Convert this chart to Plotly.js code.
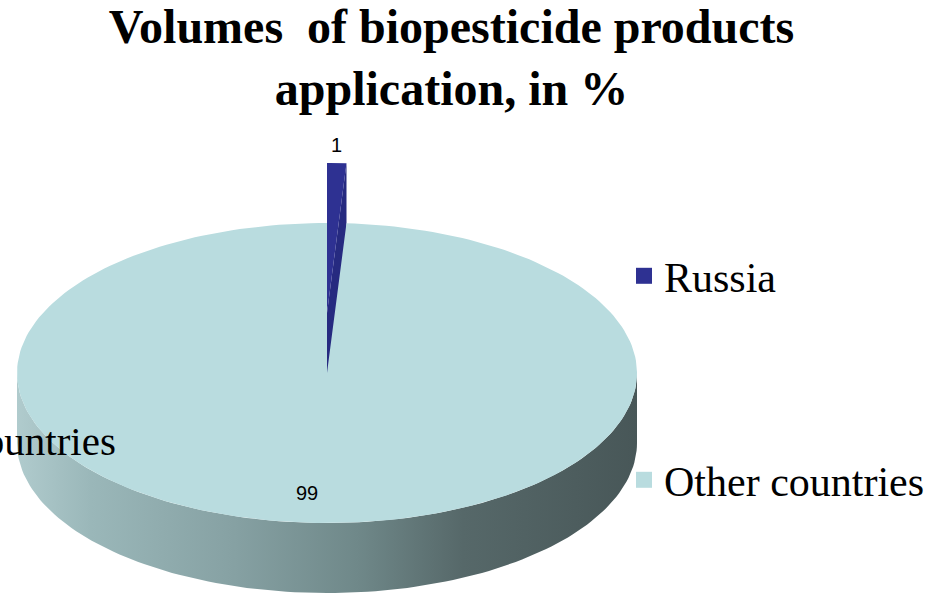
<!DOCTYPE html>
<html>
<head>
<meta charset="utf-8">
<script src="https://cdn.plot.ly/plotly-3.0.1.min.js"></script>
<style>html,body{margin:0;padding:0;background:#fff;}#chart{width:943px;height:595px;}</style>
</head>
<body>
<div id="chart"></div>
<script>
// ---- data ----
const categories = ['Russia', 'Other countries'];
const values = [1, 99];
const sliceColors = ['#2e3192', '#b9dcdf'];
const titleText = 'Volumes\u00a0\u00a0of biopesticide products<br>application, in %';

// ---- geometry of the pseudo-3D pie (pixel space) ----
const W = 943, H = 595;
const cx = 327, cy = 373, rx = 310, ry = 150, depth = 70;
const explode = 60;          // Russia slice pulled backwards (upwards on screen)

const total = values.reduce((a, b) => a + b, 0);
const rad = d => d * Math.PI / 180;
function pt(theta, r, dy) {   // theta: degrees clockwise from 12 o'clock
  r = r === undefined ? 1 : r; dy = dy || 0;
  return [cx + rx * r * Math.sin(rad(theta)), cy - ry * r * Math.cos(rad(theta)) + dy];
}
function arc(a0, a1, n, dy) {
  const out = [];
  for (let i = 0; i <= n; i++) out.push(pt(a0 + (a1 - a0) * i / n, 1, dy));
  return out;
}
// slice angles from the values
const bounds = [];
let acc = 0;
values.forEach(v => { const a0 = acc / total * 360; acc += v; bounds.push([a0, acc / total * 360]); });

const traces = [];
function poly(points, color, extra) {
  const t = Object.assign({
    x: points.map(p => p[0]), y: points.map(p => p[1]),
    mode: 'lines', fill: 'toself', fillcolor: color,
    line: {width: 0, color: color}, hoverinfo: 'skip', showlegend: false
  }, extra || {});
  traces.push(t);
}

// side wall of the big slice (front half of the cylinder)
const [o0, o1] = bounds[1];
const sideTop = arc(90, 270, 120, 0);
const sideBot = arc(270, 90, 120, depth);
poly(sideTop.concat(sideBot), '#8aa6a8', {
  fillgradient: {type: 'horizontal', colorscale: [
    [0, '#b0cbcd'], [0.12, '#9ab7b9'], [0.35, '#86a1a3'], [0.55, '#6f8889'],
    [0.72, '#566869'], [1, '#485758']]}
});

// Russia slice (exploded)
const [r0, r1] = bounds[0];
const tip = [cx, cy - explode];
const rimB = pt(r1, 1, -explode);
poly([tip, rimB, [rimB[0], rimB[1] + depth], [tip[0], tip[1] + depth]], '#262a80');
poly([tip].concat(arc(r0, r1, 6, -explode)).concat([tip]), sliceColors[0]);

// top face of the big slice
poly([[cx, cy]].concat(arc(o0, o1, 240, 0)).concat([[cx, cy]]), sliceColors[1]);

// legend entries (one per category)
categories.forEach((c, i) => {
  traces.push({
    x: [null], y: [null], type: 'scatter', mode: 'markers', name: c,
    marker: {symbol: 'square', size: 16, color: sliceColors[i]},
    legend: i === 0 ? 'legend' : 'legend2', hoverinfo: 'skip'
  });
});

// value labels
const annotations = [];
const rTop = pt((r0 + r1) / 2, 1, -explode);
annotations.push({x: rTop[0], y: rTop[1] - 18, xref: 'x', yref: 'y', text: String(values[0]),
  showarrow: false, font: {family: 'Liberation Sans, Arial', size: 20, color: '#000'}});
const oLab = pt((o0 + o1) / 2, 0.8, 0);
annotations.push({x: oLab[0] - 12, y: oLab[1], xref: 'x', yref: 'y', text: String(values[1]),
  showarrow: false, font: {family: 'Liberation Sans, Arial', size: 20, color: '#000'}});
// category label of the big slice (partly off the left edge, as in the original)
annotations.push({x: 118, y: 441, xref: 'x', yref: 'y', xanchor: 'right', yanchor: 'middle',
  text: categories[1], showarrow: false,
  font: {family: 'Liberation Serif, Times New Roman', size: 41, color: '#000'}});

const legendCommon = {
  font: {family: 'Liberation Serif, Times New Roman', size: 42, color: '#000'},
  bgcolor: 'rgba(0,0,0,0)', xanchor: 'left', yanchor: 'middle', itemsizing: 'trace'
};

const layout = {
  width: W, height: H,
  margin: {l: 0, r: 0, t: 0, b: 0},
  paper_bgcolor: '#fff', plot_bgcolor: '#fff',
  title: {
    text: titleText, x: 451.5 / W, xanchor: 'center', xref: 'paper',
    y: 0.928, yanchor: 'top', yref: 'container',
    font: {family: 'Liberation Serif, Times New Roman', size: 48, color: '#000', weight: 'bold'}
  },
  xaxis: {range: [0, W], visible: false, fixedrange: true},
  yaxis: {range: [H, 0], visible: false, fixedrange: true},
  showlegend: true,
  legend: Object.assign({x: 624 / W, y: 1 - 276 / H}, legendCommon),
  legend2: Object.assign({x: 624 / W, y: 1 - 480 / H}, legendCommon),
  annotations: annotations
};

Plotly.newPlot('chart', traces, layout, {staticPlot: true, displayModeBar: false});
</script>
</body>
</html>
